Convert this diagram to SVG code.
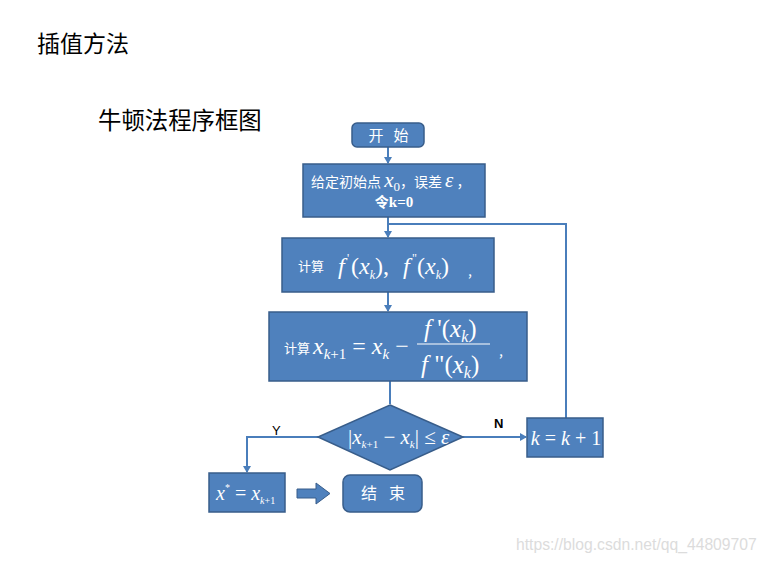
<svg xmlns="http://www.w3.org/2000/svg" width="771" height="563" viewBox="0 0 771 563">
<style>
.box{fill:#4F81BD;stroke:#385D8A;stroke-width:1.5}
.ln{fill:none;stroke:#4A7EBB;stroke-width:2}
.cn{font-family:"Noto Sans CJK SC",sans-serif;fill:#fff}
.m{font-family:"Liberation Serif",serif;fill:#fff;font-style:italic}
.mr{font-family:"Liberation Serif",serif;fill:#fff}
.t{font-family:"Noto Sans CJK SC",sans-serif;fill:#000}
</style>
<defs>
<marker id="ah" markerWidth="8" markerHeight="8" refX="6" refY="4" orient="auto" markerUnits="userSpaceOnUse">
<path d="M0,0 L7,4 L0,8 z" fill="#4A7EBB"/>
</marker>
</defs>
<rect width="771" height="563" fill="#fff"/>
<text class="t" x="37" y="52" font-size="23">插值方法</text>
<text class="t" x="98" y="129" font-size="23.4">牛顿法程序框图</text>
<text x="516" y="550" font-family="Liberation Sans,sans-serif" font-size="15.7" fill="#dcdcdc">https://blog.csdn.net/qq_44809707</text>

<g id="connectors">
<line class="ln" x1="388" y1="147" x2="388" y2="163" marker-end="url(#ah)"/>
<line class="ln" x1="388" y1="217" x2="388" y2="237" marker-end="url(#ah)"/>
<line class="ln" x1="388" y1="292" x2="388" y2="311" marker-end="url(#ah)"/>
<line class="ln" x1="390" y1="381" x2="390" y2="404"/>
<polyline class="ln" points="566,418 566,224 388,224 388,236"/>
<polyline class="ln" points="318,437 247,437 247,472" marker-end="url(#ah)"/>
<line class="ln" x1="463" y1="437" x2="526" y2="437" marker-end="url(#ah)"/>
<path d="M297,489 L316,489 L316,483 L330,493.5 L316,504 L316,498 L297,498 z" fill="#4F81BD" stroke="#385D8A" stroke-width="1"/>
<text x="272" y="435" font-family="Liberation Sans,sans-serif" font-size="13" fill="#000">Y</text>
<text x="494" y="428" font-family="Liberation Sans,sans-serif" font-size="13" font-weight="bold" fill="#000">N</text>
</g>

<g id="start">
<rect class="box" x="352" y="123" width="72" height="24" rx="5"/>
<text class="cn" x="376" y="141" font-size="15" text-anchor="middle">开</text>
<text class="cn" x="401" y="141" font-size="15" text-anchor="middle">始</text>
</g>

<g id="init">
<rect class="box" x="303" y="164" width="182" height="53"/>
<text class="cn" x="311" y="187" font-size="14">给定初始点 <tspan class="m" font-size="21">x</tspan><tspan class="mr" font-size="13" dy="4">0</tspan><tspan dy="-4">，误差 </tspan><tspan class="m" font-size="21">ε</tspan>  ，</text>
<text class="cn" x="394" y="207" font-size="14" text-anchor="middle" font-weight="bold">令<tspan class="mr" font-weight="bold" font-size="15">k=0</tspan></text>
</g>

<g id="deriv">
<rect class="box" x="282" y="238" width="212" height="54"/>
<text class="cn" x="298" y="271" font-size="13">计算</text>
<text class="m" x="338" y="274" font-size="24">f</text>
<text class="mr" x="347" y="262" font-size="12">'</text>
<text class="mr" x="351" y="274" font-size="24">(<tspan class="m">x</tspan><tspan class="m" font-size="12" dy="5">k</tspan><tspan dy="-5">),</tspan></text>
<text class="m" x="403" y="274" font-size="24">f</text>
<text class="mr" x="412" y="262" font-size="12">"</text>
<text class="mr" x="417" y="274" font-size="24">(<tspan class="m">x</tspan><tspan class="m" font-size="12" dy="5">k</tspan><tspan dy="-5">)</tspan></text>
<text class="cn" x="468" y="276" font-size="14">,</text>
</g>

<g id="newton">
<rect class="box" x="269" y="312" width="258" height="69"/>
<text class="cn" x="284" y="353" font-size="13">计算</text>
<text class="mr" x="313" y="354" font-size="24"><tspan class="m">x</tspan><tspan class="m" font-size="15" dy="5">k</tspan><tspan font-size="15">+1</tspan><tspan dy="-5"> = </tspan><tspan class="m">x</tspan><tspan class="m" font-size="15" dy="5">k</tspan><tspan dy="-5"> −</tspan></text>
<text class="mr" x="424" y="337" font-size="25"><tspan class="m">f</tspan> '(<tspan class="m">x</tspan><tspan class="m" font-size="16" dy="5">k</tspan><tspan dy="-5">)</tspan></text>
<line x1="417" y1="344" x2="490" y2="344" stroke="#fff" stroke-width="1.2"/>
<text class="mr" x="421" y="373" font-size="25"><tspan class="m">f</tspan> "(<tspan class="m">x</tspan><tspan class="m" font-size="16" dy="5">k</tspan><tspan dy="-5">)</tspan></text>
<text class="cn" x="499" y="356" font-size="14">,</text>
</g>

<g id="check">
<polygon class="box" points="390,405 463,437 390,470 318,437"/>
<text class="mr" x="348" y="444" font-size="21"><tspan>|</tspan><tspan class="m">x</tspan><tspan class="m" font-size="11" dy="4">k</tspan><tspan font-size="11">+1</tspan><tspan dy="-4"> − </tspan><tspan class="m">x</tspan><tspan class="m" font-size="11" dy="4">k</tspan><tspan dy="-4">| ≤ </tspan><tspan class="m">ε</tspan></text>
</g>

<g id="inc">
<rect class="box" x="527" y="418" width="76" height="39"/>
<text class="mr" x="566" y="445" font-size="20" text-anchor="middle"><tspan class="m">k</tspan> = <tspan class="m">k</tspan> + 1</text>
</g>

<g id="result">
<rect class="box" x="209" y="473" width="76" height="39"/>
<text class="mr" x="216" y="500" font-size="20"><tspan class="m">x</tspan><tspan font-size="10" dy="-9">*</tspan><tspan dy="9"> = </tspan><tspan class="m">x</tspan><tspan class="m" font-size="10" dy="4">k</tspan><tspan font-size="10">+1</tspan></text>
</g>

<g id="end">
<rect class="box" x="343" y="475" width="79" height="37" rx="7"/>
<text class="cn" x="369" y="499" font-size="16" text-anchor="middle">结</text>
<text class="cn" x="397" y="499" font-size="16" text-anchor="middle">束</text>
</g>
</svg>
